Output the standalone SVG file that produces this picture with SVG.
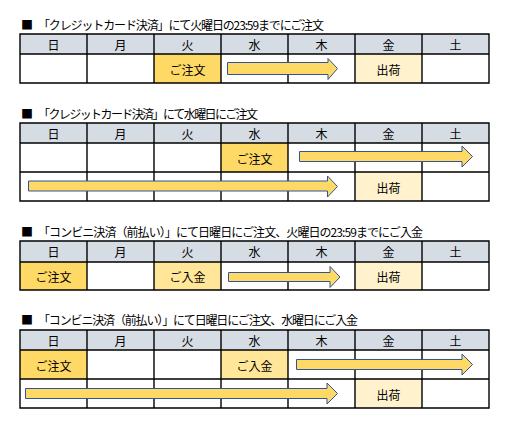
<svg xmlns="http://www.w3.org/2000/svg" width="511" height="429" viewBox="0 0 511 429">
<style>
text{font-family:"Noto Sans CJK JP","Noto Sans",sans-serif;font-size:12px;fill:#000}
.c{text-anchor:middle;dominant-baseline:central}
.hd{fill:#D6DCE4}
.ord{fill:#FFD966}
.pay{fill:#FFE699}
.shp{fill:#FFF2CC}
.wh{fill:#FFFFFF}
.grid{stroke:#000;stroke-width:1.4;fill:none}
.arr{fill:#FFD966;stroke:#2F5597;stroke-width:1}
</style>
<rect width="511" height="429" fill="#fff"/>

<!-- Table 1 -->
<g id="table1">
<text x="21" y="29.5">■</text>
<text x="38" y="29.5" textLength="286">「クレジットカード決済」にて火曜日の23:59までにご注文</text>
<rect class="hd" x="20" y="34" width="469" height="20"/>
<rect class="ord" x="154" y="54" width="67" height="29"/>
<rect class="shp" x="355" y="54" width="67" height="29"/>
<path class="grid" d="M20,34H489V83H20Z M20,54H489 M87,34V83 M154,34V83 M221,34V83 M288,34V83 M355,34V83 M422,34V83"/>
<g class="c">
<text class="c" x="53.5" y="44">日</text><text class="c" x="120.5" y="44">月</text><text class="c" x="187.5" y="44">火</text><text class="c" x="254.5" y="44">水</text><text class="c" x="321.5" y="44">木</text><text class="c" x="388.5" y="44">金</text><text class="c" x="455.5" y="44">土</text>
</g>
</g>
<g id="t1-order"><text class="c" x="187.5" y="69">ご注文</text></g>
<g id="t1-ship"><text class="c" x="388.5" y="69">出荷</text></g>

<!-- Table 2 -->
<g id="table2">
<text x="21" y="118.5">■</text>
<text x="38" y="118.5" textLength="220">「クレジットカード決済」にて水曜日にご注文</text>
<rect class="hd" x="20" y="123" width="469" height="20"/>
<rect class="ord" x="221" y="143" width="67" height="29"/>
<rect class="shp" x="355" y="172" width="67" height="29"/>
<path class="grid" d="M20,123H489V201H20Z M20,143H489 M20,172H489 M87,123V201 M154,123V201 M221,123V201 M288,123V201 M355,123V201 M422,123V201"/>
<text class="c" x="53.5" y="133">日</text><text class="c" x="120.5" y="133">月</text><text class="c" x="187.5" y="133">火</text><text class="c" x="254.5" y="133">水</text><text class="c" x="321.5" y="133">木</text><text class="c" x="388.5" y="133">金</text><text class="c" x="455.5" y="133">土</text>
</g>
<g id="t2-order"><text class="c" x="254.5" y="158">ご注文</text></g>
<g id="t2-ship"><text class="c" x="388.5" y="187">出荷</text></g>

<!-- Table 3 -->
<g id="table3">
<text x="21" y="236.5">■</text>
<text x="38" y="236.5" textLength="385">「コンビニ決済（前払い）」にて日曜日にご注文、火曜日の23:59までにご入金</text>
<rect class="hd" x="20" y="241" width="469" height="21"/>
<rect class="ord" x="20" y="262" width="67" height="28"/>
<rect class="pay" x="154" y="262" width="67" height="28"/>
<rect class="shp" x="355" y="262" width="67" height="28"/>
<path class="grid" d="M20,241H489V290H20Z M20,262H489 M87,241V290 M154,241V290 M221,241V290 M288,241V290 M355,241V290 M422,241V290"/>
<text class="c" x="53.5" y="251.5">日</text><text class="c" x="120.5" y="251.5">月</text><text class="c" x="187.5" y="251.5">火</text><text class="c" x="254.5" y="251.5">水</text><text class="c" x="321.5" y="251.5">木</text><text class="c" x="388.5" y="251.5">金</text><text class="c" x="455.5" y="251.5">土</text>
</g>
<g id="t3-order"><text class="c" x="53.5" y="276.5">ご注文</text></g>
<g id="t3-pay"><text class="c" x="187.5" y="276.5">ご入金</text></g>
<g id="t3-ship"><text class="c" x="388.5" y="276.5">出荷</text></g>

<!-- Table 4 -->
<g id="table4">
<text x="21" y="324.5">■</text>
<text x="38" y="324.5" textLength="320">「コンビニ決済（前払い）」にて日曜日にご注文、水曜日にご入金</text>
<rect class="hd" x="20" y="330" width="469" height="20"/>
<rect class="ord" x="20" y="350" width="67" height="29"/>
<rect class="pay" x="221" y="350" width="67" height="29"/>
<rect class="shp" x="355" y="379" width="67" height="29"/>
<path class="grid" d="M20,330H489V408H20Z M20,350H489 M20,379H489 M87,330V408 M154,330V408 M221,330V408 M288,330V408 M355,330V408 M422,330V408"/>
<text class="c" x="53.5" y="340">日</text><text class="c" x="120.5" y="340">月</text><text class="c" x="187.5" y="340">火</text><text class="c" x="254.5" y="340">水</text><text class="c" x="321.5" y="340">木</text><text class="c" x="388.5" y="340">金</text><text class="c" x="455.5" y="340">土</text>
</g>
<g id="t4-order"><text class="c" x="53.5" y="365">ご注文</text></g>
<g id="t4-pay"><text class="c" x="254.5" y="365">ご入金</text></g>
<g id="t4-ship"><text class="c" x="388.5" y="394">出荷</text></g>

<g id="connectors">
<polygon class="arr" points="227.5,62.5 328,62.5 328,58.5 337.5,68.5 328,79.5 328,74.5 227.5,74.5"/>
<polygon class="arr" points="299.5,151.5 462,151.5 462,146 472.5,156.5 462,167 462,161.5 299.5,161.5"/>
<polygon class="arr" points="28.5,181 327.5,181 327.5,176 337.5,186.5 327.5,197 327.5,191 28.5,191"/>
<polygon class="arr" points="228.5,272.5 330,272.5 330,266.5 340,277 330,287.5 330,281.5 228.5,281.5"/>
<polygon class="arr" points="296.5,359.5 462,359.5 462,354 472.5,364.5 462,375 462,369.5 296.5,369.5"/>
<polygon class="arr" points="25.5,388.5 327,388.5 327,383 337.5,393.5 327,404 327,398.5 25.5,398.5"/>
</g>
</svg>
